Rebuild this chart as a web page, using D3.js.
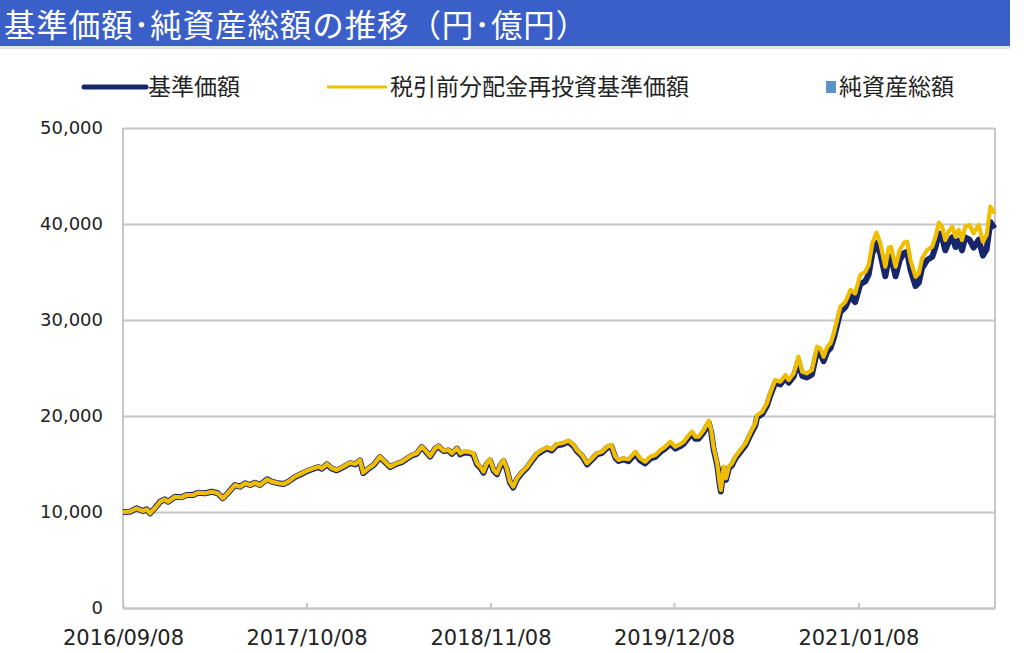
<!DOCTYPE html>
<html>
<head>
<meta charset="utf-8">
<script src="https://cdnjs.cloudflare.com/ajax/libs/d3/7.8.5/d3.min.js"></script>
<style>
body { margin: 0; background: #fff; }
svg { display: block; }
.jp { font-family: "Noto Sans CJK JP", "Noto Sans", sans-serif; }
.axis text { font-family: "DejaVu Sans", Verdana, sans-serif; fill: #222; }
</style>
</head>
<body>
<svg width="1024" height="653"></svg>
<script>
var titleText = "基準価額･純資産総額の推移（円･億円）";
var legendNames = ["基準価額", "税引前分配金再投資基準価額", "純資産総額"];

var yTicks = [0, 10000, 20000, 30000, 40000, 50000];
var xTicks = ["2016-09-08", "2017-10-08", "2018-11-08", "2019-12-08", "2021-01-08"];
var xDomain = ["2016-09-08", "2021-10-29"];

var navDates = [
  "2016-09-08","2016-09-23","2016-10-07","2016-10-21","2016-10-29","2016-11-05","2016-11-16","2016-11-27","2016-12-07","2016-12-14",
  "2016-12-29","2017-01-12","2017-01-23","2017-02-06","2017-02-16","2017-03-04","2017-03-18","2017-03-31","2017-04-11","2017-04-22",
  "2017-05-07","2017-05-18","2017-05-29","2017-06-09","2017-06-19","2017-06-30","2017-07-15","2017-07-25","2017-08-09","2017-08-19",
  "2017-08-30","2017-09-13","2017-09-28","2017-10-09","2017-10-23","2017-11-03","2017-11-10","2017-11-21","2017-12-01","2017-12-12",
  "2017-12-26","2018-01-10","2018-01-21","2018-01-31","2018-02-07","2018-02-18","2018-03-01","2018-03-15","2018-03-26","2018-04-06",
  "2018-04-20","2018-05-01","2018-05-12","2018-05-23","2018-06-02","2018-06-13","2018-06-20","2018-07-01","2018-07-12","2018-07-19",
  "2018-07-30","2018-08-10","2018-08-17","2018-08-28","2018-09-04","2018-09-11","2018-09-22","2018-10-02","2018-10-10","2018-10-17",
  "2018-10-24","2018-10-31","2018-11-07","2018-11-15","2018-11-22","2018-11-29","2018-12-06","2018-12-13","2018-12-20","2018-12-27",
  "2019-01-04","2019-01-15","2019-01-26","2019-02-05","2019-02-16","2019-02-27","2019-03-10","2019-03-20","2019-03-31","2019-04-11",
  "2019-04-25","2019-05-06","2019-05-13","2019-05-24","2019-06-04","2019-06-15","2019-06-25","2019-07-06","2019-07-17","2019-07-26",
  "2019-08-04","2019-08-11","2019-08-21","2019-09-01","2019-09-16","2019-09-26","2019-10-07","2019-10-18","2019-10-29","2019-11-09",
  "2019-11-19","2019-11-30","2019-12-11","2019-12-22","2019-12-29","2020-01-09","2020-01-16","2020-01-23","2020-01-30","2020-02-10",
  "2020-02-21","2020-02-26","2020-03-02","2020-03-10","2020-03-15","2020-03-18","2020-03-24","2020-03-29","2020-04-04","2020-04-11",
  "2020-04-18","2020-04-29","2020-05-10","2020-05-20","2020-05-31","2020-06-04","2020-06-15","2020-06-25","2020-07-02","2020-07-13",
  "2020-07-24","2020-08-04","2020-08-11","2020-08-22","2020-09-01","2020-09-09","2020-09-19","2020-09-30","2020-10-11","2020-10-18",
  "2020-10-25","2020-11-02","2020-11-09","2020-11-16","2020-11-23","2020-11-30","2020-12-11","2020-12-22","2021-01-01","2021-01-12",
  "2021-01-23","2021-01-30","2021-02-07","2021-02-16","2021-02-24","2021-03-07","2021-03-14","2021-03-19","2021-03-29","2021-04-07",
  "2021-04-16","2021-04-23","2021-04-30","2021-05-11","2021-05-18","2021-05-25","2021-06-05","2021-06-16","2021-06-23","2021-06-30",
  "2021-07-07","2021-07-14","2021-07-21","2021-07-29","2021-08-05","2021-08-12","2021-08-19","2021-08-26","2021-09-04","2021-09-13",
  "2021-09-24","2021-10-03","2021-10-11","2021-10-19","2021-10-28"
];

// 税引前分配金再投資基準価額
var reinvestValues = [
  10000,10030,10380,10100,10280,9860,10420,11070,11320,11070,
  11590,11530,11770,11770,12010,11950,12110,11950,11430,11980,
  12810,12640,12990,12810,13050,12810,13410,13160,12990,12920,
  13160,13680,14030,14300,14550,14720,14550,15000,14580,14380,
  14720,15140,15000,15420,14090,14550,14900,15760,15240,14720,
  15070,15240,15590,15940,16110,16800,16460,15830,16640,16880,
  16390,16460,16110,16640,16110,16280,16280,16110,15070,14720,
  14200,15070,15490,14380,14030,14900,15420,14550,13160,12640,
  13510,14200,14720,15420,16110,16460,16740,16530,17080,17160,
  17430,16980,16460,15940,15070,15590,16110,16280,16800,16980,
  15760,15420,15590,15490,16280,15590,15240,15760,15940,16460,
  16800,17320,16800,17080,17320,18020,18370,17840,17840,18540,
  19510,18540,16800,15070,13160,12290,14720,13510,14720,15070,
  15760,16460,17160,18200,19240,20100,20450,21320,22360,23750,
  23570,24270,23750,24450,26180,24620,24450,24790,27220,27050,
  26180,27220,27570,28610,30000,31390,31910,33130,32780,34690,
  35030,35730,37990,39090,37990,35550,37470,37640,35550,37290,
  38050,38160,36250,34510,34870,36430,37290,37640,38680,40140,
  39720,38330,39200,39720,38680,39380,38330,39720,39900,39030,
  39900,38160,38850,41800,41110
];

// 基準価額
var baseValues = [
  10000,10030,10380,10100,10280,9860,10420,11070,11320,11070,
  11590,11530,11770,11770,12010,11950,12110,11950,11430,11980,
  12810,12640,12990,12810,13050,12810,13410,13160,12990,12920,
  13160,13640,13990,14260,14510,14680,14510,14960,14540,14340,
  14680,15090,14960,15370,14050,14510,14860,15710,15190,14680,
  15020,15190,15540,15890,16060,16750,16410,15780,16590,16830,
  16340,16410,16060,16590,16000,16170,16170,16000,14960,14620,
  14100,14960,15380,14280,13930,14800,15310,14450,13070,12550,
  13420,14100,14620,15310,16000,16340,16620,16410,16960,17040,
  17310,16860,16340,15830,14960,15480,16000,16170,16680,16860,
  15650,15310,15480,15300,16080,15400,15060,15570,15750,16260,
  16600,17110,16600,16870,17110,17800,18150,17630,17630,18320,
  19280,18320,16600,14890,13000,12140,14540,13350,14540,14890,
  15570,16260,16950,17980,19010,19860,20200,21060,22090,23470,
  23290,23980,23470,24160,25710,24180,24010,24340,26730,26560,
  25710,26730,27070,28100,29460,30830,31340,32530,31860,33720,
  34050,34730,36930,38000,36930,34550,36420,36590,34550,36250,
  36980,37090,35240,33540,33890,35410,36250,36590,37600,39020,
  38610,37260,38100,38610,37600,38280,37260,38610,38380,37550,
  38380,36710,37370,40210,39550
];

var navyColor = "#17266b";
var yellowColor = "#f0be00";
var assetColor = "#5b93c8";
var gridColor = "#c6c6c6";

var parseDate = d3.timeParse("%Y-%m-%d");

var svg = d3.select("svg");
var margin = {top: 128, right: 29, bottom: 45, left: 123};
var width = +svg.attr("width") - margin.left - margin.right;
var height = +svg.attr("height") - margin.top - margin.bottom;

// title bar
svg.append("rect")
    .attr("x", 0).attr("y", 46)
    .attr("width", 1010).attr("height", 3)
    .attr("fill", "#e4e4e4");
svg.append("rect")
    .attr("x", 0).attr("y", 0)
    .attr("width", 1010).attr("height", 46)
    .attr("fill", "#3a5fc8");
svg.append("text")
    .attr("class", "jp")
    .attr("x", 4).attr("y", 37)
    .attr("font-size", 31.5)
    .attr("letter-spacing", 0.9)
    .attr("fill", "#fff")
    .text(titleText);

// legend
var legend = svg.append("g").attr("class", "jp");
legend.append("line")
    .attr("x1", 84).attr("x2", 146).attr("y1", 87).attr("y2", 87)
    .attr("stroke", navyColor).attr("stroke-width", 5).attr("stroke-linecap", "round");
legend.append("text")
    .attr("x", 148).attr("y", 95).attr("font-size", 23).attr("fill", "#222")
    .text(legendNames[0]);
legend.append("line")
    .attr("x1", 327).attr("x2", 387).attr("y1", 87).attr("y2", 87)
    .attr("stroke", yellowColor).attr("stroke-width", 3);
legend.append("text")
    .attr("x", 390).attr("y", 95).attr("font-size", 23).attr("fill", "#222")
    .text(legendNames[1]);
legend.append("rect")
    .attr("x", 826).attr("y", 81).attr("width", 10).attr("height", 12)
    .attr("fill", assetColor);
legend.append("text")
    .attr("x", 839).attr("y", 95).attr("font-size", 23).attr("fill", "#222")
    .text(legendNames[2]);

var g = svg.append("g").attr("transform", "translate(" + margin.left + "," + margin.top + ")");

var x = d3.scaleTime()
    .domain(xDomain.map(parseDate))
    .range([0, width]);
var y = d3.scaleLinear()
    .domain([0, 50000])
    .range([height, 0]);

// y axis with gridlines
var yAxisG = g.append("g")
    .attr("class", "axis")
    .call(d3.axisLeft(y)
        .tickValues(yTicks)
        .tickFormat(d3.format(","))
        .tickSizeInner(-width)
        .tickSizeOuter(0)
        .tickPadding(20));
yAxisG.select(".domain").remove();
yAxisG.selectAll(".tick line").attr("stroke", gridColor).attr("stroke-width", 2);
yAxisG.selectAll(".tick text").attr("font-size", 18);

// frame: left axis and right border
g.append("line")
    .attr("x1", 0).attr("x2", 0).attr("y1", 0).attr("y2", height)
    .attr("stroke", gridColor).attr("stroke-width", 2);
g.append("line")
    .attr("x1", width).attr("x2", width).attr("y1", 0).attr("y2", height)
    .attr("stroke", gridColor).attr("stroke-width", 2);

// x axis
var xAxisG = g.append("g")
    .attr("class", "axis")
    .attr("transform", "translate(0," + height + ")")
    .call(d3.axisBottom(x)
        .tickValues(xTicks.map(parseDate))
        .tickFormat(d3.timeFormat("%Y/%m/%d"))
        .tickSizeInner(-5)
        .tickSizeOuter(0)
        .tickPadding(22));
xAxisG.select(".domain").attr("stroke", gridColor).attr("stroke-width", 2);
xAxisG.selectAll(".tick line").attr("stroke", gridColor).attr("stroke-width", 2);
xAxisG.selectAll(".tick text").attr("font-size", 21);

// series
var baseData = navDates.map(function(d, i) { return {date: parseDate(d), value: baseValues[i]}; });
var reinvestData = navDates.map(function(d, i) { return {date: parseDate(d), value: reinvestValues[i]}; });

var line = d3.line()
    .x(function(d) { return x(d.date); })
    .y(function(d) { return y(d.value); });

g.append("path")
    .datum(baseData)
    .attr("fill", "none")
    .attr("stroke", navyColor)
    .attr("stroke-width", 6)
    .attr("stroke-linejoin", "round")
    .attr("d", line);

g.append("path")
    .datum(reinvestData)
    .attr("fill", "none")
    .attr("stroke", yellowColor)
    .attr("stroke-width", 4.2)
    .attr("stroke-linejoin", "round")
    .attr("d", line);

// label of the panel below, cut off by the frame as in the source
svg.append("text")
    .attr("class", "axis")
    .attr("x", 92).attr("y", 667)
    .attr("text-anchor", "end")
    .attr("font-family", "DejaVu Sans, sans-serif")
    .attr("font-size", 18)
    .attr("fill", "#222")
    .text("3,000");
</script>
</body>
</html>
